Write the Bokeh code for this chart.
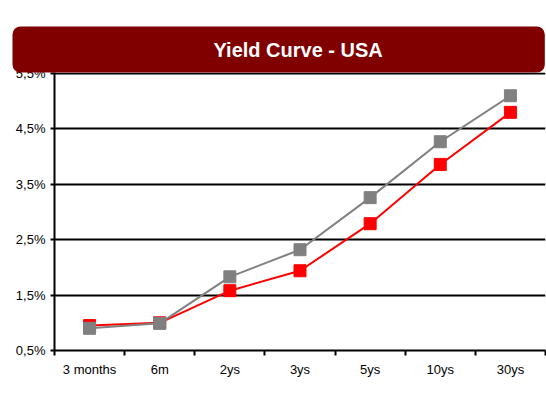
from bokeh.plotting import figure
from bokeh.models import FixedTicker, Legend, LegendItem, Title
from bokeh.embed import file_html
from bokeh.resources import INLINE

categories = ["3 months", "6m", "2ys", "3ys", "5ys", "10ys", "30ys"]
mar04 = [0.95, 1.0, 1.58, 1.94, 2.79, 3.86, 4.80]
dec03 = [0.90, 0.99, 1.83, 2.32, 3.26, 4.27, 5.10]
y_ticks = [0.5, 1.5, 2.5, 3.5, 4.5, 5.5]
y_labels = ["0,5%", "1,5%", "2,5%", "3,5%", "4,5%", "5,5%"]
title_text = "Yield Curve - USA"
series_names = ["31/03/04", "31/12/03"]

xs = list(range(len(categories)))
FONT = "Liberation Sans"

p = figure(frame_width=491, frame_height=278, output_backend="svg", toolbar_location=None,
           x_range=(-0.5, len(categories) - 0.5), y_range=(0.5, 5.52),
           min_border_left=54, min_border_right=1, min_border_top=72,
           min_border_bottom=49)
p.outline_line_color = None
p.xgrid.grid_line_color = None
p.ygrid.grid_line_color = "black"
p.ygrid.grid_line_width = 2
p.title.text = ""

banner = Title(text=title_text, align="left", offset=-42, text_color="white",
               text_font=FONT, text_font_style="bold", text_font_size="20px",
               background_fill_color="#800000", border_radius=8,
               padding=dict(left=201, right=162, top=12, bottom=12), standoff=0)
p.add_layout(banner, "above")

# spacer between the banner and the plot frame
spacer = Title(text=" ", text_font_size="1px", text_alpha=0, standoff=20)
p.add_layout(spacer, "above")

p.yaxis.ticker = FixedTicker(ticks=y_ticks)
p.yaxis.major_label_overrides = {t: l for t, l in zip(y_ticks, y_labels)}
p.yaxis.axis_line_width = 2
p.yaxis.major_tick_line_width = 2
p.yaxis.major_tick_out = 4
p.yaxis.major_tick_in = 0
p.yaxis.minor_tick_line_color = None
p.yaxis.major_label_text_font = FONT
p.yaxis.major_label_text_font_size = "13px"
p.yaxis.major_label_text_color = "black"
p.yaxis.major_label_standoff = 5

bounds = [i - 0.5 for i in range(len(categories) + 1)]
p.xaxis.ticker = FixedTicker(ticks=xs, minor_ticks=bounds)
p.xaxis.major_label_overrides = {i: c for i, c in enumerate(categories)}
p.xaxis.major_tick_line_color = None
p.xaxis.major_tick_out = 0
p.xaxis.major_tick_in = 0
p.xaxis.minor_tick_line_width = 2
p.xaxis.minor_tick_out = 5
p.xaxis.minor_tick_in = 0
p.xaxis.axis_line_width = 2
p.xaxis.major_label_text_font = FONT
p.xaxis.major_label_text_font_size = "13px"
p.xaxis.major_label_text_color = "black"
p.xaxis.major_label_standoff = 6

r1l = p.line(xs, mar04, line_color="#FF0000", line_width=2)
r1m = p.scatter(xs, mar04, marker="square", size=12, fill_color="#FF0000", line_color="#FF0000")
r2l = p.line(xs, dec03, line_color="#808080", line_width=2)
r2m = p.scatter(xs, dec03, marker="square", size=12, fill_color="#808080", line_color="#808080")

legend = Legend(items=[LegendItem(label=series_names[0], renderers=[r1l, r1m]),
                       LegendItem(label=series_names[1], renderers=[r2l, r2m])],
                orientation="horizontal", location="top_center",
                label_text_font=FONT, label_text_font_size="16px",
                label_text_color="black", label_height=16,
                glyph_width=51, glyph_height=16, spacing=10, padding=0,
                margin=0, border_line_color=None, background_fill_alpha=0,
                label_standoff=4)
p.add_layout(legend, "below")

open("out.html", "w").write(file_html(p, INLINE))
